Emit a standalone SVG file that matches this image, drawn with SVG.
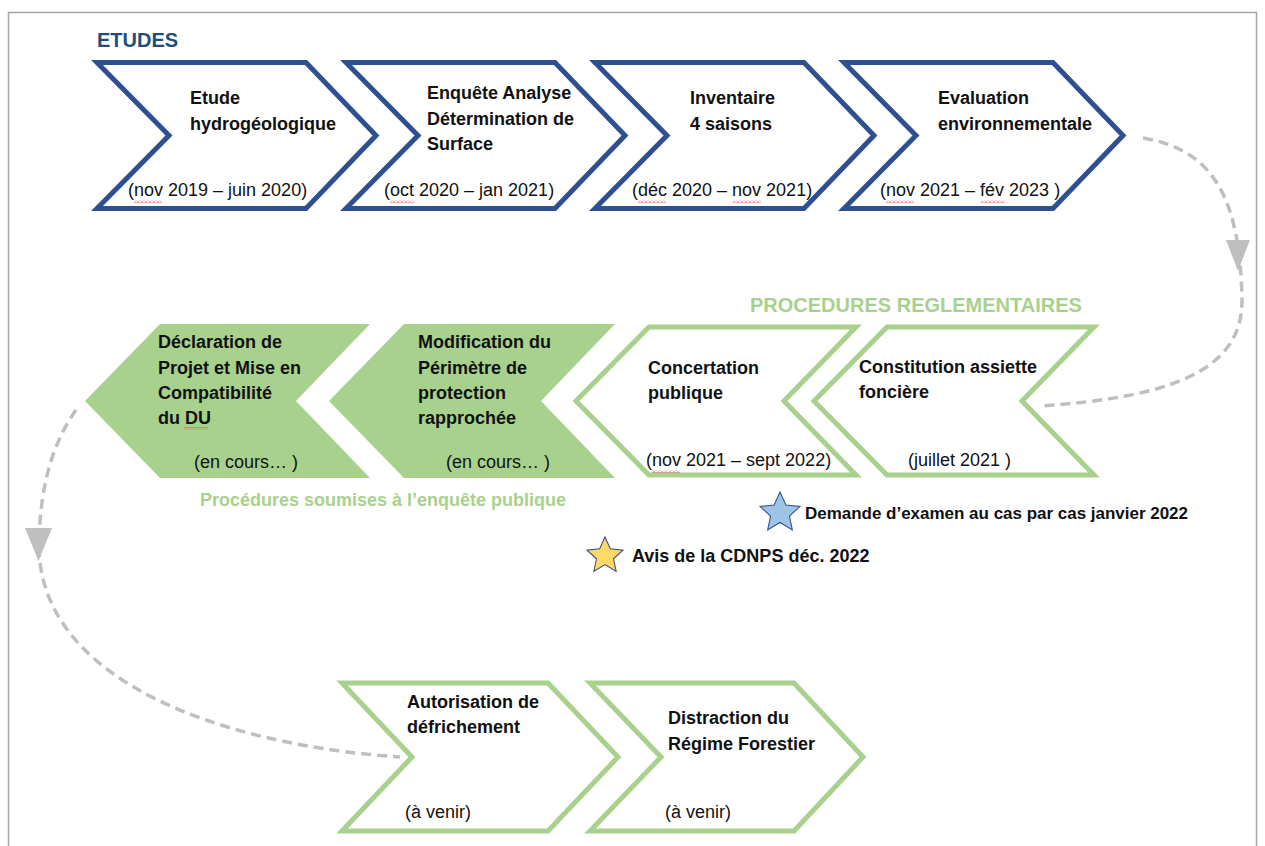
<svg xmlns="http://www.w3.org/2000/svg" width="1265" height="846" viewBox="0 0 1265 846">
<defs>
<style>
.blue{fill:#fff;stroke:#2E5090;stroke-width:5;stroke-linejoin:miter}
.gfill{fill:#A9D18E}
.gline{fill:#fff;stroke:#A9D18E;stroke-width:5;stroke-linejoin:miter}
.t{font-family:"Liberation Sans",Arial,sans-serif;font-size:18px;font-weight:bold;fill:#111}
.d{font-family:"Liberation Sans",Arial,sans-serif;font-size:18px;fill:#111}
.h1{font-family:"Liberation Sans",Arial,sans-serif;font-size:20px;font-weight:bold;fill:#1F4E79}
.h2{font-family:"Liberation Sans",Arial,sans-serif;font-size:20px;font-weight:bold;fill:#A9D18E}
.h3{font-family:"Liberation Sans",Arial,sans-serif;font-size:18px;font-weight:bold;fill:#A9D18E}
.conn{fill:none;stroke:#BFBFBF;stroke-width:3.5;stroke-dasharray:10 6}
.arr{fill:#BFBFBF}
.sq{fill:url(#squig)}
</style>
<pattern id="squig" x="0" y="0" width="4" height="3" patternUnits="userSpaceOnUse">
<path d="M0,2.5 L2,0.5 L4,2.5" fill="none" stroke="#E03030" stroke-width="0.8"/>
</pattern>
<polygon id="star" points="0,-1 0.28,-0.385 0.951,-0.309 0.449,0.146 0.588,0.809 0,0.45 -0.588,0.809 -0.449,0.146 -0.951,-0.309 -0.28,-0.385"/>
</defs>
<rect x="8.5" y="12.5" width="1248" height="850" fill="none" stroke="#A6A6A6" stroke-width="1.5"/>

<g id="connectors">
<path class="conn" d="M1143,138 C1215,150 1240,200 1242,300 C1243,375 1160,398 1040,406"/>
<polygon class="arr" points="1226,240 1250,240 1238,271"/>
<path class="conn" d="M76,410 C55,440 40,480 39,545 C39,680 220,745 400,757"/>
<polygon class="arr" points="25,528 52,528 38.5,561"/>
</g>

<text class="h1" x="97" y="47">ETUDES</text>

<g id="n-etude">
<polygon class="blue" points="97,62.5 306,62.5 376,135.5 306,208.5 97,208.5 169,135.5"/>
<text class="t" x="190" y="104">Etude</text>
<text class="t" x="190" y="130">hydrogéologique</text>
<text class="d" x="128" y="196">(nov 2019 – juin 2020)</text>
<rect class="sq" x="134" y="200" width="28" height="3"/>
</g>
<g id="n-enquete">
<polygon class="blue" points="346,62.5 555,62.5 625,135.5 555,208.5 346,208.5 418,135.5"/>
<text class="t" x="427" y="99">Enquête Analyse</text>
<text class="t" x="427" y="125">Détermination de</text>
<text class="t" x="427" y="150">Surface</text>
<text class="d" x="384" y="196">(oct 2020 – jan 2021)</text>
<rect class="sq" x="390" y="200" width="24" height="3"/>
</g>
<g id="n-inventaire">
<polygon class="blue" points="595,62.5 804,62.5 874,135.5 804,208.5 595,208.5 667,135.5"/>
<text class="t" x="690" y="104">Inventaire</text>
<text class="t" x="690" y="130">4 saisons</text>
<text class="d" x="632" y="196">(déc 2020 – nov 2021)</text>
<rect class="sq" x="638" y="200" width="28" height="3"/>
<rect class="sq" x="733" y="200" width="28" height="3"/>
</g>
<g id="n-evaluation">
<polygon class="blue" points="844,62.5 1053,62.5 1123,135.5 1053,208.5 844,208.5 916,135.5"/>
<text class="t" x="938" y="104">Evaluation</text>
<text class="t" x="938" y="130">environnementale</text>
<text class="d" x="880" y="196">(nov 2021 – fév 2023 )</text>
<rect class="sq" x="886" y="200" width="28" height="3"/>
<rect class="sq" x="981" y="200" width="24" height="3"/>
</g>

<text class="h2" x="750" y="312">PROCEDURES REGLEMENTAIRES</text>

<g id="n-declaration">
<polygon class="gfill" points="85,401 160,324 370,324 296,401 370,478 160,478"/>
<text class="t" x="158" y="348">Déclaration de</text>
<text class="t" x="158" y="373.5">Projet et Mise en</text>
<text class="t" x="158" y="399">Compatibilité</text>
<text class="t" x="158" y="424">du DU</text>
<rect class="sq" x="184" y="427" width="24" height="3"/>
<text class="d" x="194" y="468">(en cours… )</text>
</g>
<g id="n-modification">
<polygon class="gfill" points="329,401 404,324 615,324 541,401 615,478 404,478"/>
<text class="t" x="418" y="348">Modification du</text>
<text class="t" x="418" y="373.5">Périmètre de</text>
<text class="t" x="418" y="399">protection</text>
<text class="t" x="418" y="424">rapprochée</text>
<text class="d" x="446" y="468">(en cours… )</text>
</g>
<g id="n-concertation">
<polygon class="gline" points="576,401 649,327 856,327 784,401 856,475 649,475"/>
<text class="t" x="648" y="374">Concertation</text>
<text class="t" x="648" y="399">publique</text>
<text class="d" x="646" y="466">(nov 2021 – sept 2022)</text>
<rect class="sq" x="652" y="470" width="28" height="3"/>
</g>
<g id="n-constitution">
<polygon class="gline" points="814,401 887,327 1094,327 1022,401 1094,475 887,475"/>
<text class="t" x="859" y="373">Constitution assiette</text>
<text class="t" x="859" y="398">foncière</text>
<text class="d" x="908" y="466">(juillet 2021 )</text>
</g>

<text class="h3" x="200" y="506">Procédures soumises à l’enquête publique</text>

<g id="n-demande">
<use href="#star" transform="translate(780,513) scale(21)" fill="#9DC3E6" stroke="#2E5090" stroke-width="0.05"/>
<text class="t" x="805" y="519" style="font-size:17px" textLength="383">Demande d’examen au cas par cas janvier 2022</text>
</g>
<g id="n-avis">
<use href="#star" transform="translate(605,556) scale(19)" fill="#FFD966" stroke="#3A4A7A" stroke-width="0.055"/>
<text class="t" x="632" y="562">Avis de la CDNPS déc. 2022</text>
</g>

<g id="n-autorisation">
<polygon class="gline" points="342,683 548,683 618,757 548,831 342,831 412,757"/>
<text class="t" x="407" y="708">Autorisation de</text>
<text class="t" x="407" y="733">défrichement</text>
<text class="d" x="405" y="818">(à venir)</text>
</g>
<g id="n-distraction">
<polygon class="gline" points="590,683 794,683 863,757 794,831 590,831 661,757"/>
<text class="t" x="668" y="724">Distraction du</text>
<text class="t" x="668" y="750">Régime Forestier</text>
<text class="d" x="665" y="818">(à venir)</text>
</g>
</svg>
